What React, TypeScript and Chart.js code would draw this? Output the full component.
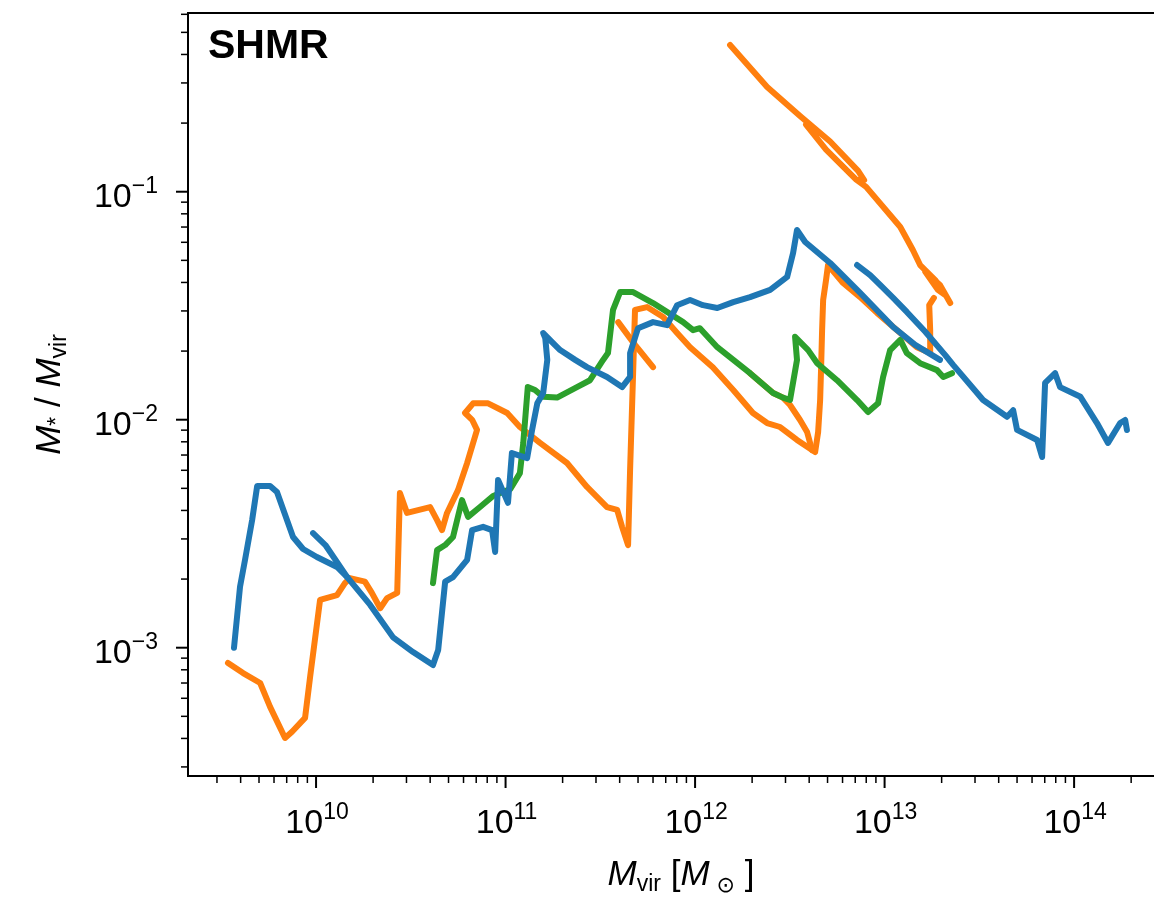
import React, { useEffect, useRef } from 'react';
import { Chart, registerables } from 'chart.js';

Chart.register(...registerables);

// ---------------- data (halo mass [Msun], stellar-to-halo mass ratio) ----------------
const blueA_mass = [3.69e9, 3.97e9, 4.22e9, 4.6e9, 4.89e9, 5.72e9, 6.22e9, 7.56e9, 8.54e9, 1.01e10, 1.29e10, 1.46e10];
const blueA_ratio = [1.0e-3, 1.85e-3, 2.43e-3, 3.63e-3, 5.12e-3, 5.12e-3, 4.82e-3, 3.06e-3, 2.71e-3, 2.5e-3, 2.26e-3, 2.04e-3];

const blueB_mass = [
  9.64e9, 1.12e10, 1.46e10, 1.93e10, 2.55e10, 3.25e10, 4.14e10, 4.41e10, 4.8e10, 5.28e10, 6.27e10, 6.66e10, 7.61e10,
  8.49e10, 8.81e10, 9.13e10, 1.03e11, 1.08e11, 1.3e11, 1.38e11, 1.47e11, 1.58e11, 1.66e11, 1.62e11, 1.58e11, 1.76e11,
  1.94e11, 2.33e11, 2.69e11, 3.43e11, 4.12e11, 4.54e11, 4.54e11, 5.0e11, 6.0e11, 7.12e11, 8.04e11, 9.41e11, 1.1e12,
  1.31e12, 1.59e12, 1.95e12, 2.49e12, 3.06e12, 3.29e12, 3.45e12, 3.81e12, 5.16e12, 7.43e12, 1.11e13, 1.45e13, 1.96e13,
];
const blueB_ratio = [
  3.18e-3, 2.82e-3, 2.04e-3, 1.54e-3, 1.11e-3, 9.57e-4, 8.39e-4, 9.77e-4, 1.95e-3, 2.04e-3, 2.43e-3, 3.28e-3, 3.39e-3,
  3.28e-3, 2.63e-3, 5.44e-3, 4.32e-3, 7.14e-3, 6.79e-3, 9.02e-3, 1.18e-2, 1.31e-2, 1.83e-2, 2.28e-2, 2.4e-2, 2.19e-2,
  2.02e-2, 1.83e-2, 1.7e-2, 1.54e-2, 1.39e-2, 1.54e-2, 1.96e-2, 2.52e-2, 2.68e-2, 2.6e-2, 3.18e-2, 3.35e-2, 3.18e-2,
  3.09e-2, 3.28e-2, 3.45e-2, 3.71e-2, 4.23e-2, 5.38e-2, 6.79e-2, 6.02e-2, 4.87e-2, 3.6e-2, 2.55e-2, 2.13e-2, 1.83e-2,
];

const blueC_mass = [
  7.16e12, 8.39e12, 9.47e12, 1.11e13, 1.31e13, 1.64e13, 2.09e13, 2.3e13, 3.31e13, 4.43e13, 4.77e13, 5.0e13, 6.38e13,
  6.78e13, 7.03e13, 7.94e13, 8.43e13, 1.08e14, 1.32e14, 1.51e14, 1.75e14, 1.86e14, 1.9e14,
];
const blueC_ratio = [
  4.77e-2, 4.31e-2, 3.9e-2, 3.42e-2, 2.97e-2, 2.43e-2, 1.92e-2, 1.74e-2, 1.22e-2, 1.03e-2, 1.1e-2, 9.02e-3, 8.15e-3,
  6.86e-3, 1.45e-2, 1.6e-2, 1.39e-2, 1.26e-2, 9.67e-3, 7.91e-3, 9.67e-3, 9.97e-3, 9.02e-3,
];

const green_mass = [
  4.14e10, 4.35e10, 4.8e10, 5.28e10, 5.89e10, 6.34e10, 7.33e10, 8.59e10, 1.06e11, 1.19e11, 1.24e11, 1.31e11, 1.43e11,
  1.58e11, 1.87e11, 2.38e11, 2.79e11, 3.27e11, 3.47e11, 3.69e11, 4.02e11, 4.71e11, 6.0e11, 8.65e11, 9.76e11, 1.06e12,
  1.31e12, 1.95e12, 2.58e12, 2.91e12, 3.17e12, 3.45e12, 3.37e12, 3.95e12, 4.41e12, 5.61e12, 7.16e12, 8.18e12, 9.24e12,
  9.82e12, 1.07e13, 1.21e13, 1.31e13, 1.54e13, 1.89e13, 2.04e13, 2.27e13,
];
const green_ratio = [
  1.92e-3, 2.68e-3, 2.82e-3, 3.06e-3, 4.44e-3, 3.75e-3, 4.14e-3, 4.63e-3, 4.97e-3, 5.83e-3, 7.91e-3, 1.39e-2, 1.35e-2,
  1.26e-2, 1.25e-2, 1.39e-2, 1.49e-2, 1.83e-2, 1.96e-2, 3.03e-2, 3.63e-2, 3.63e-2, 3.25e-2, 2.68e-2, 2.47e-2, 2.52e-2,
  2.08e-2, 1.6e-2, 1.31e-2, 1.25e-2, 1.22e-2, 1.83e-2, 2.31e-2, 2.02e-2, 1.77e-2, 1.49e-2, 1.22e-2, 1.08e-2, 1.18e-2,
  1.54e-2, 2.02e-2, 2.24e-2, 1.96e-2, 1.77e-2, 1.65e-2, 1.54e-2, 1.6e-2,
];

const orangeA_mass = [
  3.43e9, 4.12e9, 5.07e9, 5.72e9, 6.86e9, 7.47e9, 8.75e9, 9.3e9, 1.05e10, 1.29e10, 1.42e10, 1.51e10, 1.81e10, 1.97e10,
  2.18e10, 2.37e10, 2.68e10, 2.77e10, 3.02e10, 4.0e10, 4.35e10, 4.62e10, 4.91e10, 5.61e10, 6.27e10, 7.07e10, 6.66e10,
  6.11e10, 6.74e10, 8.09e10, 1.02e11, 1.19e11, 1.52e11, 2.11e11, 2.69e11, 3.43e11, 3.88e11, 4.12e11, 4.43e11, 4.54e11,
  4.71e11, 4.82e11, 5.58e11, 6.78e11, 8.04e11, 9.41e11, 1.24e12, 1.59e12, 2.02e12, 2.4e12, 2.81e12, 3.45e12, 4.3e12,
  4.46e12, 4.57e12, 4.62e12, 4.68e12, 4.74e12, 4.91e12, 5.03e12, 6.04e12, 7.43e12, 9.12e12, 1.21e13, 1.48e13, 1.74e13,
  1.74e13, 1.72e13, 1.82e13,
];
const orangeA_ratio = [
  8.57e-4, 7.74e-4, 7.0e-4, 5.5e-4, 4.02e-4, 4.28e-4, 4.92e-4, 7.43e-4, 1.62e-3, 1.7e-3, 1.92e-3, 2.02e-3, 1.95e-3,
  1.74e-3, 1.49e-3, 1.65e-3, 1.74e-3, 4.77e-3, 3.9e-3, 4.14e-3, 3.63e-3, 3.28e-3, 3.9e-3, 4.91e-3, 6.46e-3, 9.02e-3,
  9.99e-3, 1.07e-2, 1.18e-2, 1.18e-2, 1.07e-2, 9.29e-3, 7.91e-3, 6.46e-3, 5.07e-3, 4.14e-3, 4.02e-3, 3.39e-3, 2.82e-3,
  6.02e-3, 1.6e-2, 3.03e-2, 3.12e-2, 2.82e-2, 2.4e-2, 2.08e-2, 1.7e-2, 1.35e-2, 1.07e-2, 9.67e-3, 9.29e-3, 8.15e-3,
  7.21e-3, 8.83e-3, 1.22e-2, 1.65e-2, 2.47e-2, 3.35e-2, 4.1e-2, 4.77e-2, 3.98e-2, 3.45e-2, 2.94e-2, 2.4e-2, 2.08e-2,
  1.96e-2, 2.47e-2, 3.18e-2, 3.42e-2,
];

const orangeB_mass = [1.95e12, 2.58e12, 2.91e12, 3.17e12, 3.58e12, 3.9e12, 4.14e12];
const orangeB_ratio = [1.6e-2, 1.31e-2, 1.25e-2, 1.16e-2, 9.97e-3, 8.83e-3, 7.36e-3];

const orangeC_mass = [3.93e11, 4.82e11, 6.0e11];
const orangeC_ratio = [2.68e-2, 2.13e-2, 1.7e-2];

const orangeD_mass = [
  1.53e12, 2.4e12, 3.58e12, 5.16e12, 7.25e12, 7.8e12, 7.08e12, 4.91e12, 3.85e12, 4.91e12, 7.08e12, 7.99e12, 1.21e13,
  1.41e13, 1.54e13, 1.85e13, 2.09e13, 1.91e13, 1.64e13, 1.96e13, 2.22e13,
];
const orangeD_ratio = [
  0.44, 0.288, 0.215, 0.166, 0.1235, 0.1125, 0.113, 0.153, 0.197, 0.153, 0.113, 0.105, 0.07, 0.0555, 0.0477, 0.041,
  0.0352, 0.0371, 0.0445, 0.039, 0.0325,
];

// ---------------- axes ----------------
const xMin = 2.11e9;
const xMax = 2.64e14;
const yMin = 2.737e-4;
const yMax = 0.608;
const xTickValues = [1e10, 1e11, 1e12, 1e13, 1e14];
const xTickExponents = ['10', '11', '12', '13', '14'];
const yTickValues = [1e-1, 1e-2, 1e-3];
const yTickExponents = ['\u22121', '\u22122', '\u22123'];
const minorMultipliers = [2, 3, 4, 5, 6, 7, 8, 9];

const BLUE = '#1f77b4';
const ORANGE = '#ff7f0e';
const GREEN = '#2ca02c';
const LINE_W = 6;
const FONT = "'Liberation Sans', Arimo, 'DejaVu Sans', sans-serif";

type Run = { t: string; f: string; dy?: number };

function runsWidth(ctx: CanvasRenderingContext2D, runs: Run[]) {
  let w = 0;
  for (const r of runs) {
    ctx.font = r.f;
    w += ctx.measureText(r.t).width;
  }
  return w;
}

function drawRuns(ctx: CanvasRenderingContext2D, runs: Run[], x: number, y: number) {
  let cx = x;
  for (const r of runs) {
    ctx.font = r.f;
    ctx.fillText(r.t, cx, y + (r.dy || 0));
    cx += ctx.measureText(r.t).width;
  }
}

const axesPlugin = {
  id: 'mplAxes',
  afterDraw(chart: any) {
    const ctx: CanvasRenderingContext2D = chart.ctx;
    const { left, right, top, bottom } = chart.chartArea;
    const xs = chart.scales.x;
    const ys = chart.scales.y;
    ctx.save();
    ctx.strokeStyle = '#000';
    ctx.fillStyle = '#000';
    ctx.lineCap = 'butt';

    // spines
    ctx.lineWidth = 2;
    ctx.beginPath();
    ctx.moveTo(left - 1, top);
    ctx.lineTo(right + 2, top);
    ctx.moveTo(left, top - 1);
    ctx.lineTo(left, bottom + 1);
    ctx.moveTo(left - 1, bottom);
    ctx.lineTo(right + 2, bottom);
    ctx.stroke();

    const MAJ = 12;
    const MIN = 7;
    // x ticks
    const xe0 = Math.floor(Math.log10(xMin));
    const xe1 = Math.ceil(Math.log10(xMax));
    for (let e = xe0; e <= xe1; e++) {
      for (const m of [1, ...minorMultipliers]) {
        const v = m * Math.pow(10, e);
        if (v < xMin * 0.999 || v > xMax * 1.001) continue;
        const px = xs.getPixelForValue(v);
        ctx.lineWidth = m === 1 ? 2 : 1.5;
        ctx.beginPath();
        ctx.moveTo(px, bottom);
        ctx.lineTo(px, bottom + (m === 1 ? MAJ : MIN));
        ctx.stroke();
      }
    }
    // y ticks
    const ye0 = Math.floor(Math.log10(yMin));
    const ye1 = Math.ceil(Math.log10(yMax));
    for (let e = ye0; e <= ye1; e++) {
      for (const m of [1, ...minorMultipliers]) {
        const v = m * Math.pow(10, e);
        if (v < yMin * 0.999 || v > yMax * 1.001) continue;
        const py = ys.getPixelForValue(v);
        ctx.lineWidth = m === 1 ? 2 : 1.5;
        ctx.beginPath();
        ctx.moveTo(left, py);
        ctx.lineTo(left - (m === 1 ? MAJ : MIN), py);
        ctx.stroke();
      }
    }

    ctx.textAlign = 'left';
    ctx.textBaseline = 'alphabetic';
    const baseF = `34px ${FONT}`;
    const expF = `23px ${FONT}`;
    // x tick labels
    xTickValues.forEach((v, i) => {
      const px = xs.getPixelForValue(v);
      const runs: Run[] = [
        { t: '10', f: baseF },
        { t: xTickExponents[i], f: expF, dy: -14 },
      ];
      const w = runsWidth(ctx, runs);
      drawRuns(ctx, runs, px - w / 2 + 1, bottom + 57);
    });
    // y tick labels
    yTickValues.forEach((v, i) => {
      const py = ys.getPixelForValue(v);
      const runs: Run[] = [
        { t: '10', f: baseF },
        { t: yTickExponents[i], f: expF, dy: -14 },
      ];
      const w = runsWidth(ctx, runs);
      drawRuns(ctx, runs, left - 30 - w, py + 15);
    });

    // x axis title
    const xt: Run[] = [
      { t: 'M', f: `italic 35px ${FONT}` },
      { t: 'vir', f: `23px ${FONT}`, dy: 6 },
      { t: ' [', f: `35px ${FONT}` },
      { t: 'M', f: `italic 35px ${FONT}` },
      { t: '\u2009', f: `35px ${FONT}` },
      { t: '\u2299', f: `22px ${FONT}`, dy: 7 },
      { t: ' ]', f: `35px ${FONT}` },
    ];
    const xtw = runsWidth(ctx, xt);
    drawRuns(ctx, xt, 681 - xtw / 2, 885);

    // y axis title (rotated)
    const yt: Run[] = [
      { t: 'M', f: `italic 35px ${FONT}` },
      { t: '*', f: `23px ${FONT}`, dy: 4 },
      { t: ' / ', f: `35px ${FONT}` },
      { t: 'M', f: `italic 35px ${FONT}` },
      { t: 'vir', f: `23px ${FONT}`, dy: 6 },
    ];
    const ytw = runsWidth(ctx, yt);
    ctx.save();
    ctx.translate(60, (top + bottom) / 2);
    ctx.rotate(-Math.PI / 2);
    drawRuns(ctx, yt, -ytw / 2, 0);
    ctx.restore();

    // panel label
    ctx.font = `bold 41px ${FONT}`;
    ctx.fillText('SHMR', left + 20, top + 45);

    ctx.restore();
  },
};

function track(mass: number[], ratio: number[], color: string) {
  const n = Math.min(mass.length, ratio.length);
  const data = [];
  for (let i = 0; i < n; i++) data.push({ x: mass[i], y: ratio[i] });
  return {
    data,
    borderColor: color,
    backgroundColor: color,
    borderWidth: LINE_W,
    pointRadius: 0,
    pointHoverRadius: 0,
    tension: 0,
    fill: false,
    borderJoinStyle: 'round' as const,
    borderCapStyle: 'round' as const,
  };
}

export default function App() {
  const ref = useRef<HTMLCanvasElement>(null);

  useEffect(() => {
    document.body.style.margin = '0';
    document.body.style.overflow = 'hidden';
    const canvas = ref.current;
    if (!canvas) return;
    const chart = new Chart(canvas, {
      type: 'line',
      data: {
        // first dataset is painted last (on top): blue, then green, then orange
        datasets: [
          track(blueA_mass, blueA_ratio, BLUE),
          track(blueB_mass, blueB_ratio, BLUE),
          track(blueC_mass, blueC_ratio, BLUE),
          track(green_mass, green_ratio, GREEN),
          track(orangeA_mass, orangeA_ratio, ORANGE),
          track(orangeB_mass, orangeB_ratio, ORANGE),
          track(orangeC_mass, orangeC_ratio, ORANGE),
          track(orangeD_mass, orangeD_ratio, ORANGE),
        ] as any,
      },
      options: {
        animation: false,
        responsive: false,
        devicePixelRatio: 1,
        events: [],
        elements: {
          line: { borderWidth: LINE_W, borderJoinStyle: 'round', borderCapStyle: 'round', tension: 0 },
          point: { radius: 0, hoverRadius: 0 },
        },
        layout: { padding: { left: 188, top: 13, right: 0, bottom: 130 } },
        plugins: {
          legend: { display: false },
          tooltip: { enabled: false },
          title: { display: false },
        },
        scales: {
          x: { type: 'logarithmic', min: xMin, max: xMax, bounds: 'data', display: false },
          y: { type: 'logarithmic', min: yMin, max: yMax, bounds: 'data', display: false },
        },
      } as any,
      plugins: [axesPlugin],
    });
    return () => chart.destroy();
  }, []);

  return (
    <div
      style={{
        position: 'absolute',
        left: 0,
        top: 0,
        width: 1154,
        height: 906,
        overflow: 'hidden',
        background: '#fff',
      }}
    >
      <canvas ref={ref} width={1154} height={906} style={{ display: 'block', width: 1154, height: 906 }} />
    </div>
  );
}
